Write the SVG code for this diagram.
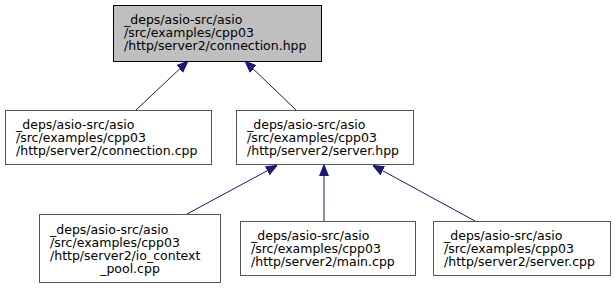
<svg xmlns="http://www.w3.org/2000/svg" width="615" height="289" viewBox="0 0 615 289">
  <style>
    .node rect { fill: #ffffff; stroke: #555555; stroke-width: 1; }
    .node.current rect { fill: #bfbfbf; stroke: #000000; }
    .node text { font-family: "DejaVu Sans", sans-serif; font-size: 12.5px; fill: #000000; }
    .edge { stroke: #191970; stroke-width: 1; fill: none; marker-end: url(#arrow); }
  </style>
  <defs>
    <marker id="arrow" viewBox="0 0 10 10" refX="9" refY="5" markerWidth="11" markerHeight="11" markerUnits="userSpaceOnUse" orient="auto">
      <path d="M0,1 L10,5 L0,9 Z" fill="#191970" stroke="#191970"/>
    </marker>
  </defs>

  <g id="connectors">
    <line class="edge" x1="136" y1="110" x2="187" y2="62"/>
    <line class="edge" x1="296" y1="110" x2="246" y2="62"/>
    <line class="edge" x1="187" y1="214" x2="276" y2="166"/>
    <line class="edge" x1="324" y1="221" x2="324" y2="166"/>
    <line class="edge" x1="475" y1="221" x2="374" y2="166"/>
  </g>

  <g id="node-connection-hpp" class="node current">
    <rect x="113.5" y="5.5" width="208" height="56"/>
    <text x="124" y="24">_deps/asio-src/asio</text>
    <text x="124" y="37">/src/examples/cpp03</text>
    <text x="124" y="50">/http/server2/connection.hpp</text>
  </g>

  <g id="node-connection-cpp" class="node">
    <rect x="5.5" y="110.5" width="206" height="54"/>
    <text x="16" y="129">_deps/asio-src/asio</text>
    <text x="16" y="142">/src/examples/cpp03</text>
    <text x="16" y="155">/http/server2/connection.cpp</text>
  </g>

  <g id="node-server-hpp" class="node">
    <rect x="236.5" y="110.5" width="177" height="54"/>
    <text x="247" y="129">_deps/asio-src/asio</text>
    <text x="247" y="142">/src/examples/cpp03</text>
    <text x="247" y="155">/http/server2/server.hpp</text>
  </g>

  <g id="node-io-context-pool-cpp" class="node">
    <rect x="39.5" y="214.5" width="181" height="68"/>
    <text x="50" y="234">_deps/asio-src/asio</text>
    <text x="50" y="247">/src/examples/cpp03</text>
    <text x="50" y="260">/http/server2/io_context</text>
    <text x="130" y="273" text-anchor="middle">_pool.cpp</text>
  </g>

  <g id="node-main-cpp" class="node">
    <rect x="240.5" y="221.5" width="175" height="54"/>
    <text x="251" y="240">_deps/asio-src/asio</text>
    <text x="251" y="253">/src/examples/cpp03</text>
    <text x="251" y="266">/http/server2/main.cpp</text>
  </g>

  <g id="node-server-cpp" class="node">
    <rect x="433.5" y="221.5" width="177" height="54"/>
    <text x="444" y="240">_deps/asio-src/asio</text>
    <text x="444" y="253">/src/examples/cpp03</text>
    <text x="444" y="266">/http/server2/server.cpp</text>
  </g>
</svg>
